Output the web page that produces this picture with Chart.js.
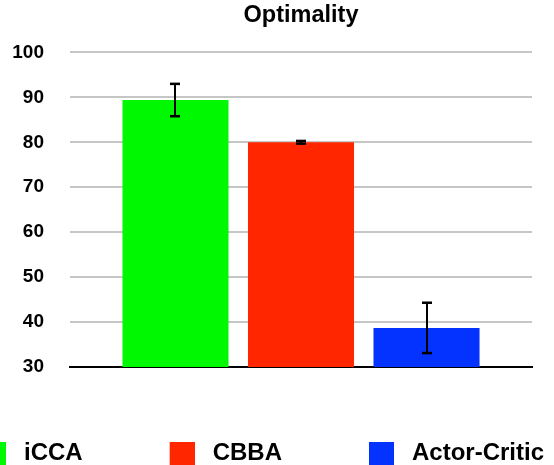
<!DOCTYPE html>
<html>
<head>
<meta charset="utf-8">
<script src="https://cdn.jsdelivr.net/npm/chart.js@4/dist/chart.umd.min.js"></script>
<style>
  html, body { margin: 0; padding: 0; width: 554px; height: 465px; overflow: hidden; background: #fff; }
  #c { position: absolute; left: -126px; top: 0; }
</style>
</head>
<body>
<canvas id="c" width="700" height="475"></canvas>
<script>
const chartTitle = 'Optimality';
const groupLabels = [''];
const categories = ['iCCA', 'CBBA', 'Actor-Critic'];
const values = [89.4, 80.0, 38.7];
const errors = [3.6, 0.3, 5.6];
const colors = ['#00f900', '#ff2600', '#0433ff'];
const yTicks = [30, 40, 50, 60, 70, 80, 90, 100];

const FONT = "'Liberation Sans', Arial, Helvetica, sans-serif";

function legendSwatch(color) {
  const c = document.createElement('canvas');
  c.width = 96; c.height = 28;
  const g = c.getContext('2d');
  g.fillStyle = color;
  g.fillRect(71, 3, 25, 25);
  return c;
}
const swatches = colors.map(legendSwatch);

const errorBars = {
  id: 'errorBars',
  afterDatasetsDraw(chart) {
    const ctx = chart.ctx;
    const ys = chart.scales.y;
    ctx.save();
    ctx.strokeStyle = '#000';
    ctx.fillStyle = '#000';
    ctx.lineWidth = 2;
    chart.data.datasets.forEach((ds, i) => {
      const bar = chart.getDatasetMeta(i).data[0];
      const v = values[i], e = errors[i];
      const x = Math.round(bar.x);
      const yt = ys.getPixelForValue(v + e);
      const yb = ys.getPixelForValue(v - e);
      ctx.beginPath();
      ctx.moveTo(x, yt);
      ctx.lineTo(x, yb);
      ctx.stroke();
      ctx.fillRect(x - 5, yt - 1.25, 10, 2.5);
      ctx.fillRect(x - 5, yb - 1.25, 10, 2.5);
    });
    ctx.restore();
  }
};

Chart.defaults.color = '#000';
Chart.defaults.font.family = FONT;

new Chart(document.getElementById('c'), {
  type: 'bar',
  data: {
    labels: groupLabels,
    datasets: categories.map((name, i) => ({
      label: name,
      data: [values[i]],
      backgroundColor: colors[i],
      borderWidth: 0,
      categoryPercentage: 0.815,
      barPercentage: 0.845
    }))
  },
  options: {
    responsive: false,
    animation: false,
    devicePixelRatio: 1,
    layout: { padding: 0 },
    plugins: {
      title: {
        display: true,
        text: chartTitle,
        fullSize: false,
        color: '#000',
        font: { size: 23.5, weight: 'bold', family: FONT },
        padding: { top: 1, bottom: 23.2 }
      },
      legend: {
        position: 'bottom',
        fullSize: true,
        labels: {
          usePointStyle: true,
          pointStyleWidth: 108,
          padding: 10,
          color: '#000',
          font: { size: 24, weight: 'bold', family: FONT },
          generateLabels: (chart) => categories.map((name, i) => ({
            text: name,
            fillStyle: colors[i],
            strokeStyle: colors[i],
            lineWidth: 0,
            pointStyle: swatches[i],
            hidden: false,
            datasetIndex: i
          }))
        }
      },
      tooltip: { enabled: false }
    },
    scales: {
      x: {
        type: 'category',
        ticks: { display: false },
        grid: { display: false, drawTicks: false },
        border: { display: true, color: '#000', width: 2 },
        afterFit: (s) => { s.height = 64; }
      },
      y: {
        position: 'left',
        min: yTicks[0],
        max: yTicks[yTicks.length - 1],
        ticks: {
          stepSize: yTicks[1] - yTicks[0],
          padding: 26,
          color: '#000',
          font: { size: 19, weight: 'bold', family: FONT }
        },
        grid: { color: '#c6c6c6', lineWidth: 2, drawTicks: false },
        border: { display: false },
        afterFit: (s) => { s.width = 196; }
      },
      yRight: {
        position: 'right',
        display: true,
        ticks: { display: false },
        grid: { display: false, drawTicks: false },
        border: { display: false },
        afterFit: (s) => { s.width = 42; }
      }
    }
  },
  plugins: [errorBars]
});
</script>
</body>
</html>
